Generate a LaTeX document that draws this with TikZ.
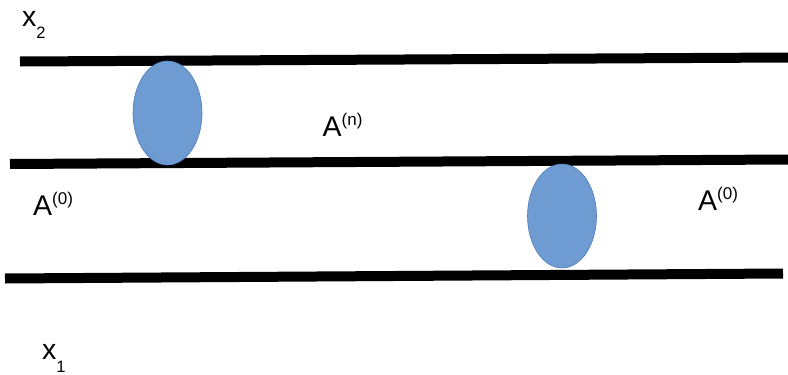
\documentclass[tikz,border=0pt]{standalone}
\usepackage{fontspec}
\setmainfont{Liberation Sans}
\usepackage{xcolor}
\usetikzlibrary{shapes.geometric}
\definecolor{blobfill}{HTML}{6E9BD2}
\definecolor{blobline}{HTML}{4E7DB8}
\newcommand{\hi}[1]{\raisebox{11pt}{\fontsize{17}{17}\selectfont #1}}
\newcommand{\lo}[1]{\raisebox{-12.5pt}{\fontsize{16.5}{17}\selectfont #1}}

\begin{document}
\begin{tikzpicture}[x=1pt,y=-1pt,font=\fontsize{28.5}{30}\selectfont]

\tikzset{
bar/.style={line width=10pt,black},
blob/.style={
    ellipse,
    draw=blobline,
    line width=0.6pt,
    fill=blobfill,
    inner sep=0pt,
    minimum width=69pt,
    minimum height=104pt
},
lab/.style={inner sep=0pt,anchor=base west}
}

\useasboundingbox (0,0) rectangle (788,375);

% the three walls
\coordinate (topL) at (20,61.5);
\coordinate (topR) at (788,57.5);
\coordinate (midL) at (10,164);
\coordinate (midR) at (788,159.5);
\coordinate (botL) at (5,278.5);
\coordinate (botR) at (783,273.5);

\draw[bar] (topL) -- (topR);
\draw[bar] (midL) -- (midR);
\draw[bar] (botL) -- (botR);

% inclusions
\node[blob] (upper) at (167.5,113) {};
\node[blob] (lower) at (562,216) {};

% labels
\node[lab] (xtwo) at (22,26) {x\lo{2}};
\node[lab] (xone) at (42,359.5) {x\lo{1}};
\node[lab] (an) at (322.5,136) {A\hi{(n)}};
\node[lab] (azl) at (33,215.7) {A\hi{(0)}};
\node[lab] (azr) at (698,210) {A\hi{(0)}};

\end{tikzpicture}
\end{document}
